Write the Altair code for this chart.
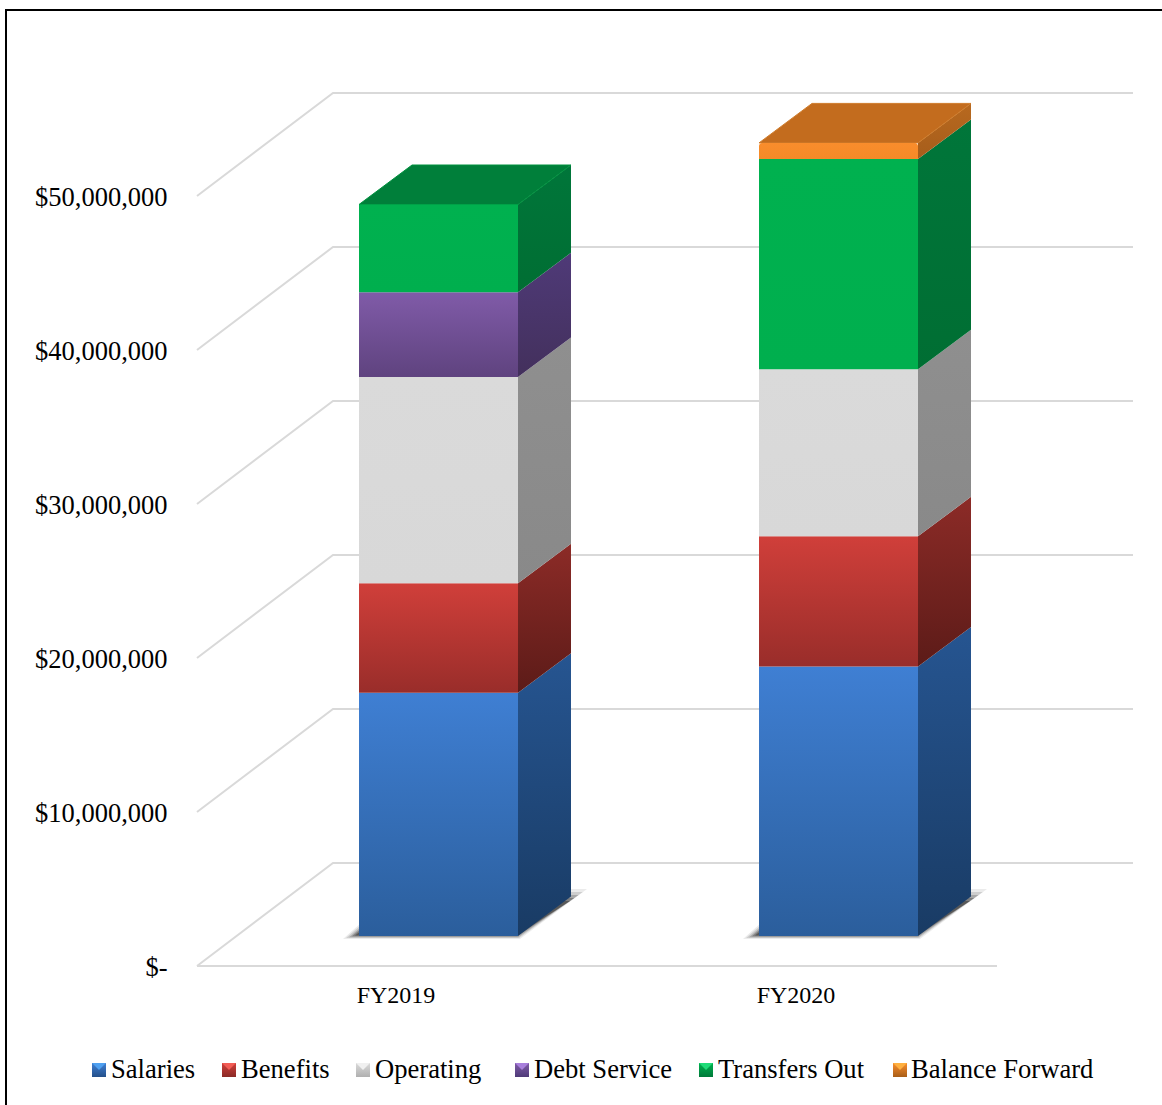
import altair as alt
import pandas as pd

# Budget figures in dollars, stacked bottom to top within each fiscal year
categories = ["FY2019", "FY2020"]
series = ["Salaries", "Benefits", "Operating", "Debt Service", "Transfers Out", "Balance Forward"]
fy2019 = [15800000, 7100000, 13400000, 5500000, 5700000, 0]
fy2020 = [17500000, 8450000, 10850000, 0, 13650000, 1050000]
ticks = [0, 10000000, 20000000, 30000000, 40000000, 50000000]

# (front top, front bottom, side top, side bottom, cap, cap edge)
palette = {
    "Salaries": ("#3F7FD3", "#2B5E9C", "#265591", "#193B64", None, None),
    "Benefits": ("#D03F3A", "#992D2A", "#8C2B27", "#5C1B18", None, None),
    "Operating": ("#DADADA", "#D8D8D8", "#8F8F8F", "#898989", None, None),
    "Debt Service": ("#805BA8", "#5F437F", "#4F3A78", "#43305C", None, None),
    "Transfers Out": ("#00B14F", "#00AF4E", "#00763A", "#006E33", "#007F3A", "#00923F"),
    "Balance Forward": ("#F98D2C", "#F58A28", "#B8691F", "#A65D1B", "#C36C1E", "#CF7C2B"),
}
swatch_light = {"Salaries": "#4FA0F0", "Benefits": "#F25C55", "Operating": "#F0F0F0",
                "Debt Service": "#A87FDC", "Transfers Out": "#1FDC78", "Balance Forward": "#FFB040"}
swatch_dark = {"Salaries": "#24508A", "Benefits": "#8A2A26", "Operating": "#B0B0B0",
               "Debt Service": "#4F3A78", "Transfers Out": "#007A3A", "Balance Forward": "#A85E18"}

# Oblique projection, in scale units
W, H = 1162, 1105
UNIT_X = 400.0            # pixels per category
UNIT_Y = 154.0 / 1e7      # pixels per dollar
ORIGIN_X, ORIGIN_Y = 397.0, 966.0
x_scale = alt.Scale(domain=[-ORIGIN_X / UNIT_X, (W - ORIGIN_X) / UNIT_X], nice=False, zero=False)
y_scale = alt.Scale(domain=[(ORIGIN_Y - H) / UNIT_Y, ORIGIN_Y / UNIT_Y], nice=False, zero=False)

WALL_DX, WALL_DY = 136 / UNIT_X, 103 / UNIT_Y
FRONT_DX, FRONT_DY = 41.5 / UNIT_X, 30 / UNIT_Y
BAR_DX, BAR_DY = 53 / UNIT_X, 39.5 / UNIT_Y
HALF_BAR = 79.5 / UNIT_X

FONT = "Liberation Serif"


def gradient(top, bottom):
    return alt.Gradient(
        gradient="linear", x1=0, y1=0, x2=0, y2=1,
        stops=[alt.GradientStop(color=top, offset=0), alt.GradientStop(color=bottom, offset=1)],
    )


# Every layer shares these axes, so they merge into one pair
label_expr = "datum.value === 0 ? '$-' : format(datum.value, '$,')"
cat_expr = f"datum.value === 0 ? '{categories[0]}' : '{categories[1]}'"
X = alt.X("x:Q", scale=x_scale, axis=alt.Axis(
    values=[0, 1], labelExpr=cat_expr, title=None, domain=False, ticks=False, grid=False,
    labelFont=FONT, labelFontSize=24, labelColor="#000000", labelPadding=0,
    labelBaseline="middle", labelOffset=-1.5, offset=-(H - 995)))
Y = alt.Y("y:Q", scale=y_scale, axis=alt.Axis(
    values=ticks, labelExpr=label_expr, title=None, domain=False, ticks=False, grid=False,
    labelFont=FONT, labelFontSize=26.5, labelColor="#000000", labelPadding=0,
    labelBaseline="middle", labelOffset=1, offset=-167))

# Back wall and floor: each level runs up the side wall and then along the back wall
grid_rows = []
for t in ticks:
    grid_rows += [
        {"level": t, "order": 0, "x": -0.5, "y": t},
        {"level": t, "order": 1, "x": -0.5 + WALL_DX, "y": t + WALL_DY},
        {"level": t, "order": 2, "x": 1.5 + WALL_DX, "y": t + WALL_DY},
    ]
grid_rows += [{"level": -1, "order": 0, "x": -0.5, "y": 0}, {"level": -1, "order": 1, "x": 1.5, "y": 0}]

grid = alt.Chart(pd.DataFrame(grid_rows)).mark_line(color="#D9D9D9", strokeWidth=2).encode(
    x=X, y=Y, detail="level:N", order="order:Q"
)

# Soft floor shadow: nested translucent parallelograms
layers = [grid]
for inset, alpha in [(0, 0.08), (3, 0.12), (6, 0.18), (9, 0.25), (12, 0.3)]:
    rows = []
    for i in range(len(categories)):
        cx = i + FRONT_DX
        rows += [
            {"pos": i, "y": FRONT_DY + (inset * 0.3 - 3) / UNIT_Y,
             "x": cx - HALF_BAR - (16 - inset) / UNIT_X, "x2": cx + HALF_BAR + (2 - inset * 0.3) / UNIT_X},
            {"pos": i, "y": FRONT_DY + (47 - inset) / UNIT_Y,
             "x": cx - HALF_BAR + 40 / UNIT_X, "x2": cx + HALF_BAR + (69 - inset * 1.4) / UNIT_X},
        ]
    layers.append(
        alt.Chart(pd.DataFrame(rows)).mark_area(orient="horizontal", color="#000000", opacity=alpha).encode(
            y=Y, x=X, x2="x2:Q", detail="pos:N"
        )
    )

# Stack the segments
segments = []
for i, vals in enumerate([fy2019, fy2020]):
    base = 0
    for name, v in zip(series, vals):
        if v > 0:
            segments.append({"pos": i, "series": name, "base": base, "top": base + v})
            base += v
seg = pd.DataFrame(segments)
top_series = seg.groupby("pos")["top"].idxmax()

# Right-hand side faces
for name in series:
    part = seg[seg["series"] == name]
    rows = []
    for _, s in part.iterrows():
        right = s["pos"] + FRONT_DX + HALF_BAR
        rows += [
            {"pos": s["pos"], "x": right, "y": s["top"] + FRONT_DY, "y2": s["base"] + FRONT_DY},
            {"pos": s["pos"], "x": right + BAR_DX, "y": s["top"] + FRONT_DY + BAR_DY, "y2": s["base"] + FRONT_DY + BAR_DY},
        ]
    c = palette[name]
    layers.append(
        alt.Chart(pd.DataFrame(rows)).mark_area(color=gradient(c[2], c[3])).encode(
            x=X, y=Y, y2="y2:Q", detail="pos:N"
        )
    )

# Caps on top of each stack
for idx in top_series:
    s = seg.loc[idx]
    c = palette[s["series"]]
    left = s["pos"] + FRONT_DX - HALF_BAR
    right = s["pos"] + FRONT_DX + HALF_BAR
    rows = [
        {"y": s["top"] + FRONT_DY, "x": left, "x2": right},
        {"y": s["top"] + FRONT_DY + BAR_DY, "x": left + BAR_DX, "x2": right + BAR_DX},
    ]
    layers.append(
        alt.Chart(pd.DataFrame(rows))
        .mark_area(orient="horizontal", color=c[4], stroke=c[5], strokeWidth=1, strokeJoin="round")
        .encode(y=Y, x=X, x2="x2:Q")
    )

# Front faces; the orange cap segment has softened upper corners
for name in series:
    part = seg[seg["series"] == name].copy()
    part["x"] = part["pos"] + FRONT_DX - HALF_BAR
    part["x2"] = part["pos"] + FRONT_DX + HALF_BAR
    part["y"] = part["top"] + FRONT_DY
    part["y2"] = part["base"] + FRONT_DY
    c = palette[name]
    radius = 3 if name == "Balance Forward" else 0
    layers.append(
        alt.Chart(part[["x", "x2", "y", "y2"]])
        .mark_rect(color=gradient(c[0], c[1]), cornerRadiusTopLeft=radius, cornerRadiusTopRight=radius)
        .encode(x=X, x2="x2:Q", y=Y, y2="y2:Q")
    )

# Chart frame along the top and left edges
anchor = pd.DataFrame({"k": [0]})
layers.append(alt.Chart(anchor).mark_rule(color="#000000", strokeWidth=2).encode(
    x=alt.value(5), x2=alt.value(W), y=alt.value(10)))
layers.append(alt.Chart(anchor).mark_rule(color="#000000", strokeWidth=2).encode(
    x=alt.value(6), y=alt.value(10), y2=alt.value(H)))

# Legend row
legend_swatch_x = [92, 222, 356, 515, 699, 893]
legend_text_x = [111, 241, 375, 534, 718, 911]
SW = 14
LEG_Y = 1063
for name, sx, tx in zip(series, legend_swatch_x, legend_text_x):
    c = palette[name]
    layers.append(alt.Chart(anchor).mark_rect(color=gradient(c[0], swatch_dark[name])).encode(
        x=alt.value(sx), x2=alt.value(sx + SW), y=alt.value(LEG_Y), y2=alt.value(LEG_Y + SW)))
    layers.append(alt.Chart(anchor).mark_point(
        shape="M-1,-1L1,-1L0,0Z", filled=True, color=swatch_light[name], opacity=1, size=SW * SW, strokeWidth=0
    ).encode(x=alt.value(sx + SW / 2), y=alt.value(LEG_Y + SW / 2)))
    layers.append(alt.Chart(pd.DataFrame({"label": [name]})).mark_text(
        font=FONT, fontSize=26.6, color="#000000", align="left", baseline="alphabetic"
    ).encode(x=alt.value(tx), y=alt.value(1078), text="label:N"))

chart = (
    alt.layer(*layers)
    .properties(width=W, height=H, padding=0, autosize=alt.AutoSizeParams(type="none"), background="#FFFFFF")
    .configure_view(stroke=None)
)

chart.save("out.html", embed_options={"renderer": "svg", "actions": False})
